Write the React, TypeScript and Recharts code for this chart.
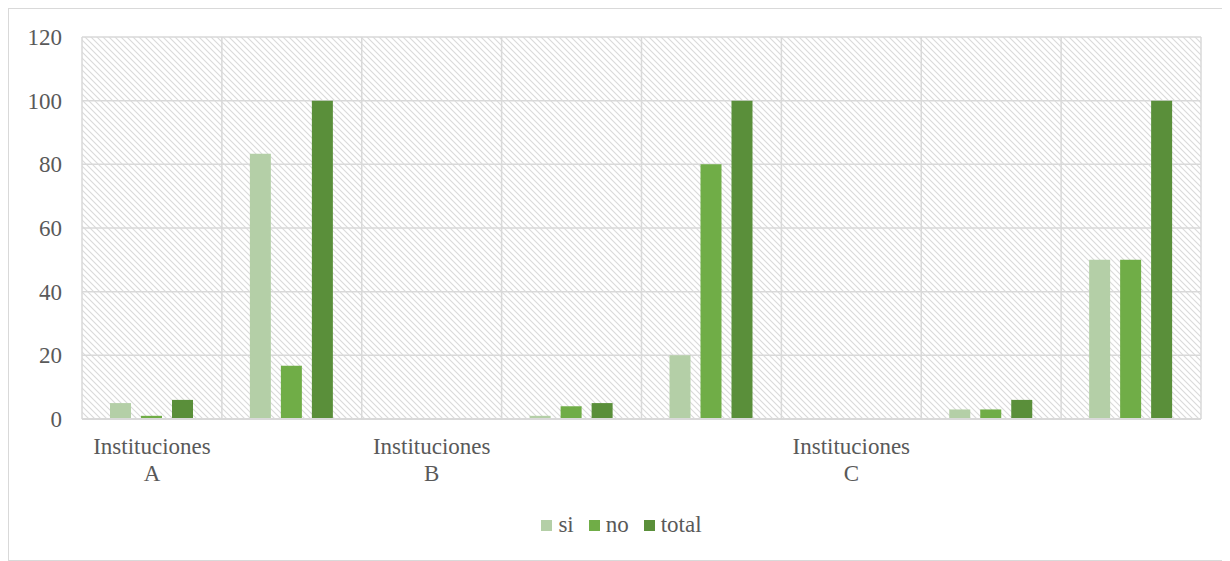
import React from "react";
import { BarChart, Bar, XAxis, YAxis, CartesianGrid, Legend } from "recharts";

const categories = ["c1", "c2", "c3", "c4", "c5", "c6", "c7", "c8"];
const tickLabels = [
  ["Instituciones", "A"],
  [],
  ["Instituciones", "B"],
  [],
  [],
  ["Instituciones", "C"],
  [],
  [],
];
const siValues = [5, 83.3, 0, 1, 20, 0, 3, 50];
const noValues = [1, 16.7, 0, 4, 80, 0, 3, 50];
const totalValues = [6, 100, 0, 5, 100, 0, 6, 100];
const yTicks = [0, 20, 40, 60, 80, 100, 120];

const series = [
  { key: "si", name: "si", color: "#b4cfa7" },
  { key: "no", name: "no", color: "#70ad47" },
  { key: "total", name: "total", color: "#5a8f3a" },
];

const data = categories.map((c, i) => ({
  cat: c,
  si: siValues[i],
  no: noValues[i],
  total: totalValues[i],
}));

const FONT = "Liberation Serif, serif";
const TEXT = "#595959";
const GRID = "#d9d9d9";

function CategoryTick(props: any) {
  const { x, y, payload } = props;
  const lines = tickLabels[payload.index] || [];
  return (
    <text x={x} y={y} textAnchor="middle" fill={TEXT} style={{ fontFamily: FONT, fontSize: 23 }}>
      {lines.map((l, i) => (
        <tspan key={i} x={x} dy={i === 0 ? 35 : 27}>
          {l}
        </tspan>
      ))}
    </text>
  );
}

function LegendBox() {
  return (
    <div
      style={{
        height: 40,
        display: "flex",
        justifyContent: "center",
        alignItems: "center",
        paddingLeft: 24,
        paddingTop: 10,
        fontFamily: FONT,
        fontSize: 23,
        color: TEXT,
        boxSizing: "border-box",
      }}
    >
      {series.map((s, i) => (
        <div key={s.key} style={{ display: "flex", alignItems: "center", marginLeft: i === 0 ? 0 : 15 }}>
          <span style={{ width: 11, height: 11, background: s.color, display: "inline-block", marginRight: 6 }} />
          <span style={{ lineHeight: "24px", fontFamily: FONT }}>{s.name}</span>
        </div>
      ))}
    </div>
  );
}

export default function App() {
  return (
    <div
      style={{
        position: "relative",
        width: 1221,
        height: 553,
        border: `1px solid ${GRID}`,
        boxSizing: "border-box",
        boxShadow: "-3px 2px 4px rgba(0,0,0,0.12)",
        background: "#fff",
        fontFamily: FONT,
      }}
    >
      <svg width={0} height={0} style={{ position: "absolute" }}>
        <defs>
          <pattern id="hatch" patternUnits="userSpaceOnUse" width={6} height={6}>
            <rect width={6} height={6} fill="#ffffff" />
            <path d="M0,0 L6,6 M-1,5 L1,7 M5,-1 L7,1" stroke="#dadada" strokeWidth={1.1} />
          </pattern>
        </defs>
      </svg>
      <BarChart
        width={1219}
        height={551}
        data={data}
        margin={{ top: 28, right: 27, left: 9, bottom: 20 }}
        barGap={10}
        barSize={21}
      >
        <CartesianGrid
          fill="url(#hatch)"
          stroke={GRID}
          strokeWidth={1.5}
          verticalCoordinatesGenerator={({ offset }: any) =>
            categories
              .map((_, i) => offset.left + (i * offset.width) / categories.length)
              .concat([offset.left + offset.width])
          }
        />
        <XAxis
          dataKey="cat"
          axisLine={{ stroke: GRID, strokeWidth: 2 }}
          tickLine={false}
          tickSize={0}
          tickMargin={0}
          height={81}
          interval={0}
          tick={<CategoryTick />}
        />
        <YAxis
          domain={[0, 120]}
          ticks={yTicks}
          width={64}
          axisLine={false}
          tickLine={false}
          tickSize={0}
          tickMargin={20}
          tick={{ fill: TEXT, fontSize: 23, style: { fontFamily: FONT } }}
        />
        <Legend verticalAlign="bottom" content={<LegendBox />} />
        {series.map((s) => (
          <Bar key={s.key} dataKey={s.key} name={s.name} fill={s.color} isAnimationActive={false} />
        ))}
      </BarChart>
    </div>
  );
}
